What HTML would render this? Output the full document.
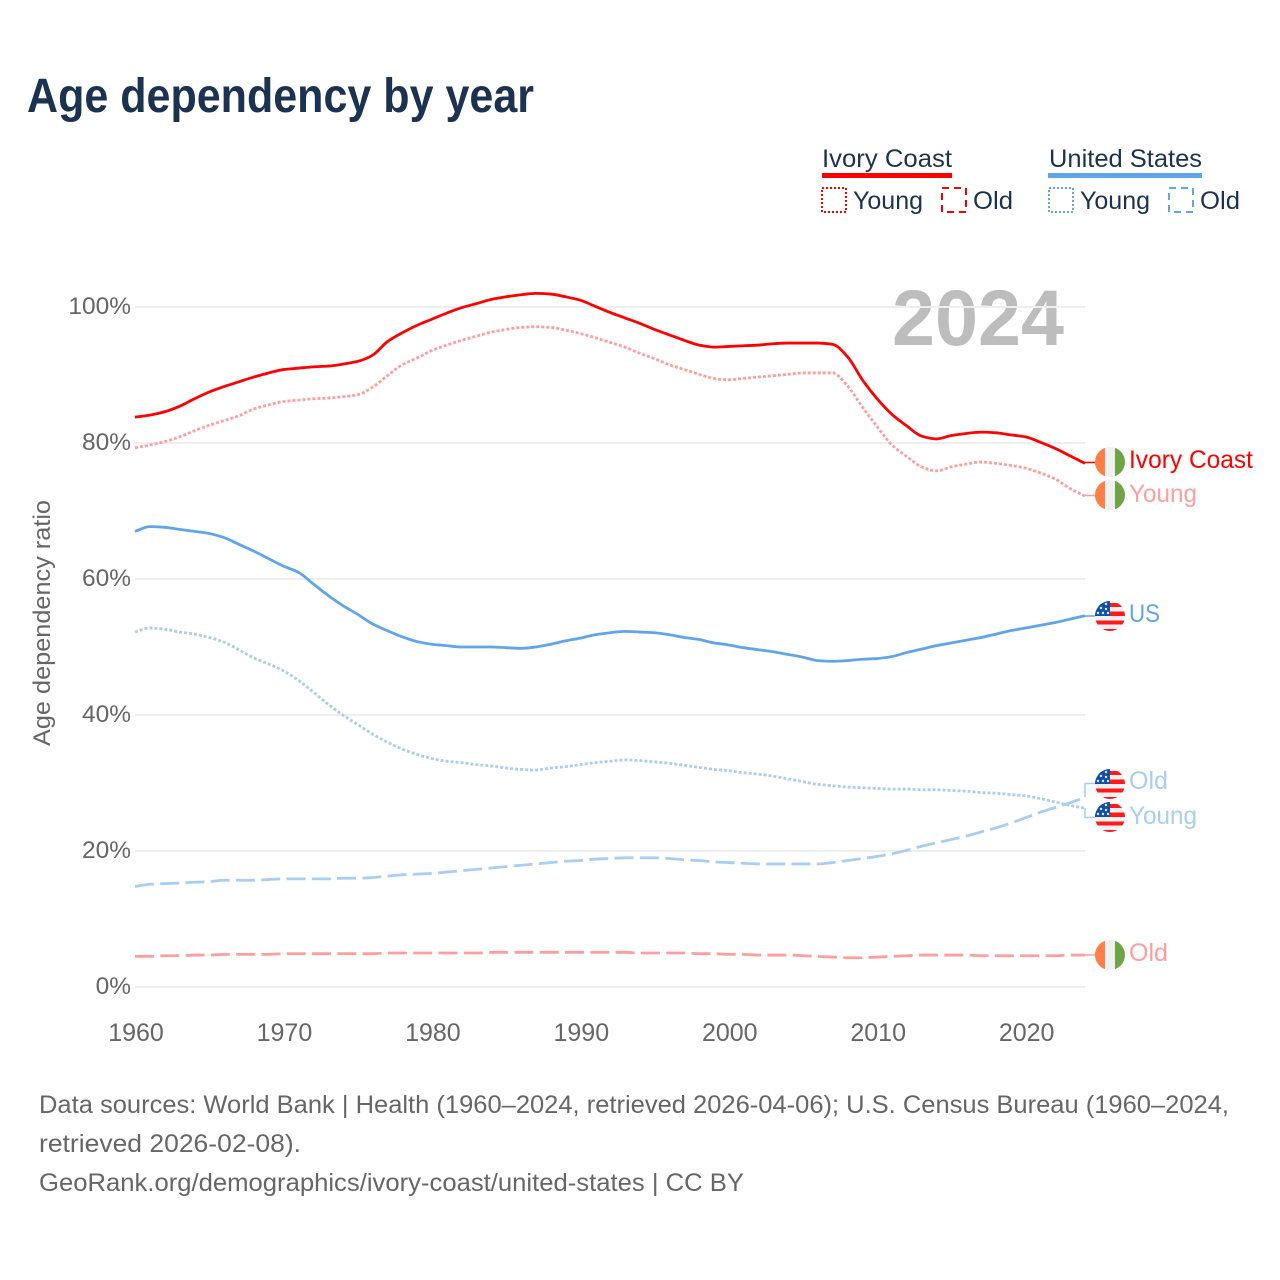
<!DOCTYPE html>
<html lang="en">
<head>
<meta charset="utf-8">
<title>Age dependency by year</title>
<style>
html,body{margin:0;padding:0;background:#fff;width:1280px;height:1280px;overflow:hidden}
svg{display:block}
text{font-family:"Liberation Sans",sans-serif}
</style>
</head>
<body>
<svg id="chart" xmlns="http://www.w3.org/2000/svg" width="1280" height="1280" viewBox="0 0 1280 1280">
<defs>
<clipPath id="flag-clip"><circle cx="0" cy="0" r="15"/></clipPath>
<g id="flag-ic" clip-path="url(#flag-clip)">
<rect x="-15" y="-15" width="30" height="30" fill="#eef0f1"/>
<rect x="-15" y="-15" width="10" height="30" fill="#ff7f47"/>
<rect x="5" y="-15" width="10" height="30" fill="#6da544"/>
</g>
<g id="flag-us" clip-path="url(#flag-clip)">
<rect x="-15" y="-15" width="30" height="30" fill="#eef0f1"/>
<rect x="-15" y="-13" width="30" height="4" fill="#ff1a1a"/>
<rect x="-15" y="-4.5" width="30" height="4.5" fill="#ff1a1a"/>
<rect x="-15" y="4.5" width="30" height="4" fill="#ff1a1a"/>
<rect x="-15" y="13" width="30" height="3" fill="#ff1a1a"/>
<rect x="-15" y="-15" width="15" height="15" fill="#0f4fae"/>
<g fill="#e8eef6">
<circle cx="-4" cy="-12" r="1.2"/><circle cx="-9" cy="-8" r="1.2"/><circle cx="-4" cy="-7" r="1.2"/>
<circle cx="-12" cy="-3" r="1.2"/><circle cx="-7" cy="-3" r="1.2"/><circle cx="-2" cy="-3" r="1.2"/>
</g>
</g>
</defs>

<text x="27" y="112" font-size="48" font-weight="700" fill="#1b3250" textLength="507" lengthAdjust="spacingAndGlyphs">Age dependency by year</text>

<g>
<text x="822" y="167" font-size="25" fill="#1b3250" textLength="130" lengthAdjust="spacingAndGlyphs">Ivory Coast</text>
<rect x="822" y="173" width="130" height="5" fill="#ff0000"/>
<rect x="822" y="188" width="24" height="24" fill="none" stroke="#ff0000" stroke-width="2" stroke-dasharray="2 2"/>
<text x="853" y="209" font-size="25" fill="#1b3250" textLength="70" lengthAdjust="spacingAndGlyphs">Young</text>
<rect x="942" y="188" width="24" height="24" fill="none" stroke="#ff0000" stroke-width="2" stroke-dasharray="7 5"/>
<text x="973" y="209" font-size="25" fill="#1b3250" textLength="40" lengthAdjust="spacingAndGlyphs">Old</text>

<text x="1049" y="167" font-size="25" fill="#1b3250" textLength="153" lengthAdjust="spacingAndGlyphs">United States</text>
<rect x="1048" y="173" width="154" height="5" fill="#60a5ea"/>
<rect x="1049" y="188" width="24" height="24" fill="none" stroke="#60a5ea" stroke-width="2" stroke-dasharray="2 2"/>
<text x="1080" y="209" font-size="25" fill="#1b3250" textLength="70" lengthAdjust="spacingAndGlyphs">Young</text>
<rect x="1169" y="188" width="24" height="24" fill="none" stroke="#60a5ea" stroke-width="2" stroke-dasharray="7 5"/>
<text x="1200" y="209" font-size="25" fill="#1b3250" textLength="40" lengthAdjust="spacingAndGlyphs">Old</text>
</g>

<text x="892" y="345" font-size="79" font-weight="700" fill="#bdbdbd" textLength="172" lengthAdjust="spacingAndGlyphs">2024</text>

<text x="0" y="0" transform="translate(50,623) rotate(-90)" text-anchor="middle" font-size="24" fill="#666666" textLength="246" lengthAdjust="spacingAndGlyphs">Age dependency ratio</text>

<g id="grid"></g>
<g id="series"></g>

<g>
<use href="#flag-ic" x="1110" y="462"/>
<use href="#flag-ic" x="1110" y="495"/>
<use href="#flag-us" x="1110" y="616"/>
<use href="#flag-us" x="1110" y="784"/>
<use href="#flag-us" x="1110" y="817"/>
<use href="#flag-ic" x="1110" y="955"/>
<text x="1129" y="468" font-size="25" fill="#ff0000" textLength="124" lengthAdjust="spacingAndGlyphs">Ivory Coast</text>
<text x="1129" y="502" font-size="25" fill="#ff9e9e" textLength="68" lengthAdjust="spacingAndGlyphs">Young</text>
<text x="1129" y="622" font-size="25" fill="#60a5ea" textLength="31" lengthAdjust="spacingAndGlyphs">US</text>
<text x="1129" y="789" font-size="25" fill="#a9cdf3" textLength="39" lengthAdjust="spacingAndGlyphs">Old</text>
<text x="1129" y="824" font-size="25" fill="#a9cdf3" textLength="68" lengthAdjust="spacingAndGlyphs">Young</text>
<text x="1129" y="961" font-size="25" fill="#ff9e9e" textLength="39" lengthAdjust="spacingAndGlyphs">Old</text>
</g>

<g font-size="25" fill="#666666">
<text x="39" y="1113" textLength="1190" lengthAdjust="spacingAndGlyphs">Data sources: World Bank | Health (1960–2024, retrieved 2026-04-06); U.S. Census Bureau (1960–2024,</text>
<text x="39" y="1152" textLength="262" lengthAdjust="spacingAndGlyphs">retrieved 2026-02-08).</text>
<text x="39" y="1191" textLength="705" lengthAdjust="spacingAndGlyphs">GeoRank.org/demographics/ivory-coast/united-states | CC BY</text>
</g>
</svg>

<script>
const years = [1960,1961,1962,1963,1964,1965,1966,1967,1968,1969,
1970,1971,1972,1973,1974,1975,1976,1977,1978,1979,
1980,1981,1982,1983,1984,1985,1986,1987,1988,1989,
1990,1991,1992,1993,1994,1995,1996,1997,1998,1999,
2000,2001,2002,2003,2004,2005,2006,2007,2008,2009,
2010,2011,2012,2013,2014,2015,2016,2017,2018,2019,
2020,2021,2022,2023,2024];
const ivoryCoastTotal = [83.8,84.1,84.6,85.4,86.5,87.5,88.3,89.0,89.7,90.3,
90.8,91.0,91.2,91.3,91.6,92.0,92.9,94.9,96.2,97.3,
98.2,99.1,99.9,100.5,101.1,101.5,101.8,102.0,101.9,101.5,
101.0,100.1,99.2,98.4,97.6,96.7,95.9,95.1,94.4,94.1,
94.2,94.3,94.4,94.6,94.7,94.7,94.7,94.5,92.7,89.3,
86.5,84.2,82.5,81.0,80.6,81.1,81.4,81.6,81.5,81.2,
80.9,80.1,79.2,78.1,77.0];
const ivoryCoastYoung = [79.3,79.7,80.2,80.9,81.8,82.6,83.3,84.0,85.0,85.6,
86.1,86.3,86.5,86.6,86.8,87.1,88.2,89.9,91.5,92.5,
93.6,94.4,95.1,95.7,96.3,96.7,97.0,97.1,97.0,96.6,
96.1,95.5,94.8,94.1,93.2,92.4,91.5,90.8,90.1,89.5,
89.3,89.5,89.7,89.9,90.1,90.3,90.3,90.3,88.4,85.3,
82.4,79.7,78.0,76.5,75.9,76.5,76.9,77.2,77.0,76.7,
76.3,75.6,74.7,73.3,72.2];
const ivoryCoastOld = [4.5,4.5,4.6,4.6,4.7,4.7,4.8,4.8,4.8,4.8,
4.9,4.9,4.9,4.9,4.9,4.9,4.9,5.0,5.0,5.0,
5.0,5.0,5.0,5.0,5.1,5.1,5.1,5.1,5.1,5.1,
5.1,5.1,5.1,5.1,5.0,5.0,5.0,5.0,4.9,4.9,
4.8,4.8,4.7,4.7,4.7,4.6,4.5,4.4,4.3,4.3,
4.4,4.5,4.6,4.7,4.7,4.7,4.7,4.6,4.6,4.6,
4.6,4.6,4.6,4.7,4.7];
const usTotal = [67.0,67.7,67.6,67.3,67.0,66.7,66.1,65.1,64.1,63.0,
61.9,61.0,59.3,57.6,56.1,54.8,53.4,52.4,51.5,50.8,
50.4,50.2,50.0,50.0,50.0,49.9,49.8,50.0,50.4,50.9,
51.3,51.8,52.1,52.3,52.2,52.1,51.8,51.4,51.1,50.6,
50.3,49.9,49.6,49.3,48.9,48.5,48.0,47.9,48.0,48.2,
48.3,48.6,49.2,49.7,50.2,50.6,51.0,51.4,51.9,52.4,
52.8,53.2,53.6,54.1,54.6];
const usYoung = [52.2,52.8,52.6,52.2,51.9,51.4,50.7,49.6,48.4,47.5,
46.5,45.1,43.4,41.6,40.0,38.6,37.2,36.0,35.0,34.2,
33.6,33.2,33.0,32.7,32.5,32.2,32.0,31.9,32.2,32.4,
32.7,33.0,33.2,33.4,33.3,33.1,32.9,32.6,32.3,32.0,
31.8,31.5,31.3,31.0,30.6,30.2,29.8,29.6,29.4,29.3,
29.2,29.1,29.1,29.0,29.0,28.9,28.8,28.6,28.5,28.3,
28.1,27.7,27.2,26.7,26.3];
const usOld = [14.8,15.1,15.2,15.3,15.4,15.5,15.7,15.7,15.7,15.8,
15.9,15.9,15.9,15.9,16.0,16.0,16.1,16.3,16.5,16.6,
16.7,16.9,17.1,17.3,17.5,17.7,17.9,18.1,18.3,18.5,
18.6,18.8,18.9,19.0,19.0,19.0,18.9,18.7,18.6,18.4,
18.3,18.2,18.1,18.1,18.1,18.1,18.1,18.3,18.6,18.9,
19.2,19.6,20.1,20.7,21.2,21.7,22.2,22.8,23.4,24.1,
24.9,25.7,26.4,27.1,27.9];
const yTickValues = [0,20,40,60,80,100];
const yTickLabels = ["0%","20%","40%","60%","80%","100%"];
const xTickValues = [1960,1970,1980,1990,2000,2010,2020];
const xTickLabels = ["1960","1970","1980","1990","2000","2010","2020"];

const NS = "http://www.w3.org/2000/svg";
function xScale(year){ return 135 + (year - 1960) * (1085 - 135) / 64; }
function yScale(v){ return 987 - v * 6.8; }
function make(tag, attrs, parent){
  const el = document.createElementNS(NS, tag);
  for (const k in attrs) el.setAttribute(k, attrs[k]);
  parent.appendChild(el);
  return el;
}
/* Monotone cubic path through the mapped points */
function curvePath(xs, ys){
  const n = xs.length;
  const slopes = [];
  for (let i = 0; i < n - 1; i++) slopes.push((ys[i+1] - ys[i]) / (xs[i+1] - xs[i]));
  const tangents = [slopes[0]];
  for (let i = 1; i < n - 1; i++) {
    const a = slopes[i-1], b = slopes[i];
    tangents.push(a * b <= 0 ? 0 : 2 * a * b / (a + b));
  }
  tangents.push(slopes[n-2]);
  let d = "M" + xs[0].toFixed(2) + " " + ys[0].toFixed(2);
  for (let i = 0; i < n - 1; i++) {
    const h = (xs[i+1] - xs[i]) / 3;
    d += "C" + (xs[i] + h).toFixed(2) + " " + (ys[i] + tangents[i] * h).toFixed(2) + " " +
         (xs[i+1] - h).toFixed(2) + " " + (ys[i+1] - tangents[i+1] * h).toFixed(2) + " " +
         xs[i+1].toFixed(2) + " " + ys[i+1].toFixed(2);
  }
  return d;
}
const grid = document.getElementById("grid");
const seriesLayer = document.getElementById("series");

yTickValues.forEach(function(v, i){
  const line = make("line", {x1:135, x2:1085, y1:yScale(v), y2:yScale(v), stroke:"#eeeeee", "stroke-width":2}, grid);
  
  
  const t = make("text", {x:131, y:yScale(v)+7, "text-anchor":"end", "font-size":24.5, fill:"#666666"}, grid);
  t.textContent = yTickLabels[i];
  
  
});
xTickValues.forEach(function(v, i){
  const t = make("text", {x:xScale(v)+1, y:1041, "text-anchor":"middle", "font-size":25, fill:"#666666"}, grid);
  t.textContent = xTickLabels[i];
  
  
});

function drawSeries(name, values, color, dash, flagY){
  const xs = years.map(xScale);
  const ys = values.map(yScale);
  const attrs = {d:curvePath(xs, ys), fill:"none", stroke:color, "stroke-width":2.8, "stroke-linejoin":"round"};
  if (dash) attrs["stroke-dasharray"] = dash;
  const path = make("path", attrs, seriesLayer);
  
  
  const endX = xs[xs.length - 1];
  const endY = ys[ys.length - 1];
  const conn = make("path", {
    d:"M" + endX + " " + endY + "L" + endX + " " + flagY + "L1096 " + flagY,
    fill:"none", stroke:color, "stroke-width":1.6
  }, seriesLayer);
  
  
}
drawSeries("ivory-coast-young", ivoryCoastYoung, "#ff9e9e", "3 2", 495.5);
drawSeries("ivory-coast-old", ivoryCoastOld, "#ff9e9e", "19 6.3", 955);
drawSeries("us-young", usYoung, "#a9cdf3", "3 2", 817.5);
drawSeries("us-old", usOld, "#a9cdf3", "19 6.3", 783.5);
drawSeries("us-total", usTotal, "#60a5ea", null, 616);
drawSeries("ivory-coast-total", ivoryCoastTotal, "#ff0000", null, 462.5);
</script>
</body>
</html>
